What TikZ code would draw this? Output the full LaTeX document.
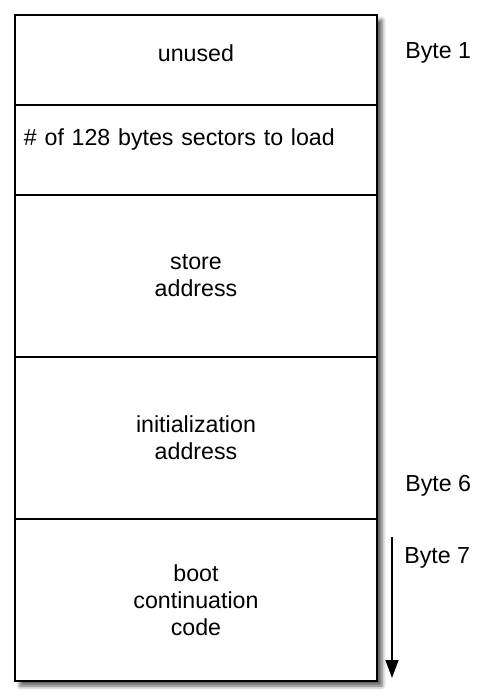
\documentclass[tikz,border=0pt]{standalone}
\usepackage{fontspec}
\setmainfont{Liberation Sans}
\usetikzlibrary{arrows.meta,shadows.blur}
\definecolor{bootink}{HTML}{000000}
\tikzstyle{field} = [draw=bootink, shape=rectangle, line width=1pt, minimum width=181pt, inner sep=0pt, align=center]
\tikzstyle{short} = [minimum height=45pt]
\tikzstyle{tall} = [minimum height=81pt]
\tikzstyle{bytelabel} = [anchor=base west, inner sep=0pt, text=bootink]

\begin{document}
\begin{tikzpicture}[x=0.5pt, y=-0.5pt, font=\fontsize{11.6}{13.5}\selectfont]
    \useasboundingbox (0,0) rectangle (496,698);
    % outer frame, carries the shadow
    \draw [line width=1pt, draw=bootink, fill=white, blur shadow={shadow xshift=2.5pt, shadow yshift=-2.5pt, shadow blur radius=2pt, shadow opacity=65}] (15,15) rectangle (377,681);
    \draw (196,60) node[field,short,text height=6pt,text depth=5pt] (unused) {unused};
    \draw (196,150) node[field,short,text width=172pt,inner xsep=4.5pt,align=left,text height=6pt,text depth=11pt] (sectors) {\# of 128 bytes sectors to load};
    \draw (196,276) node[field,tall] (store) {store\\address};
    \draw (196,438) node[field,tall] (init) {initialization\\address};
    \draw (196,600) node[field,tall] (boot) {boot\\continuation\\code};
    \draw (405,58) node[bytelabel] (byte1) {Byte 1};
    \draw (405,491) node[bytelabel] (byte6) {Byte 6};
    \draw (404,563) node[bytelabel] (byte7) {Byte 7};
    \coordinate (codetop) at (392,537);
    \coordinate (codeend) at (392,678);
    \draw [line width=0.7pt, draw=bootink, -{Triangle[width=6.5pt,length=9pt]}] (codetop) -- (codeend);
\end{tikzpicture}
\end{document}
